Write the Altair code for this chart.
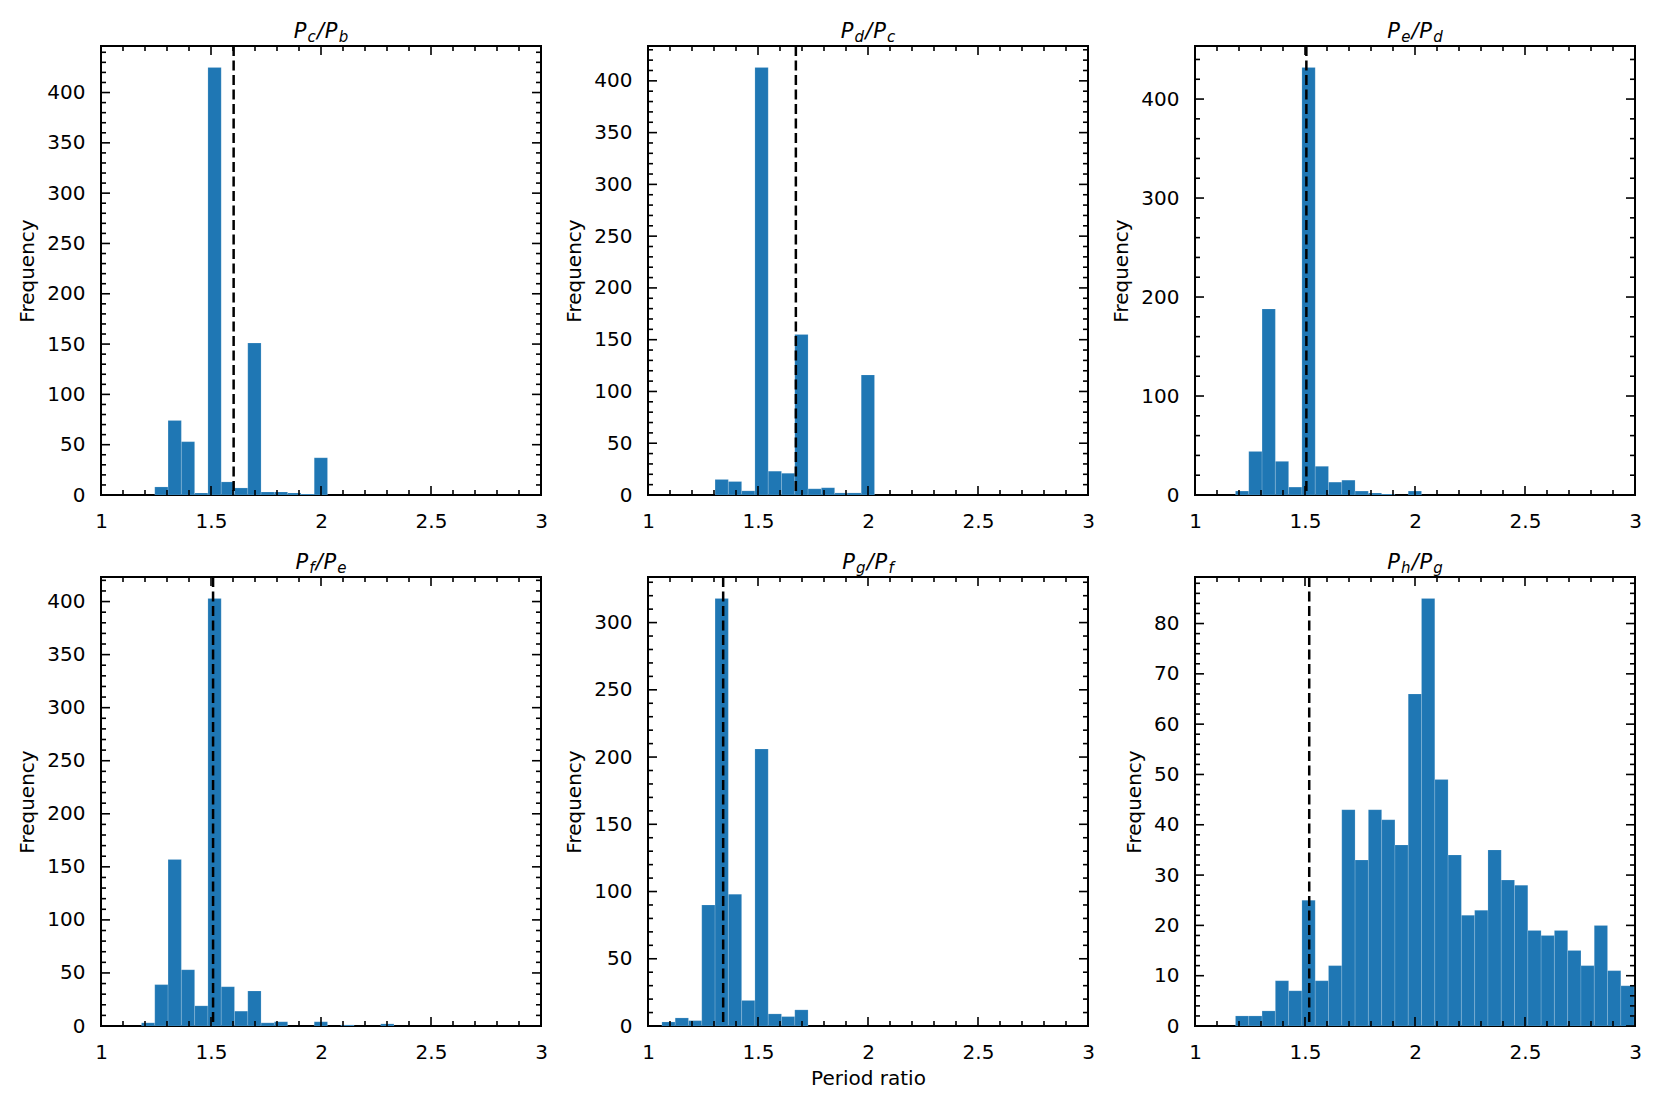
import altair as alt
import numpy as np
import pandas as pd

# ---------------- data ----------------
BIN_START = 1.184      # left edge of the common histogram grid
BIN_WIDTH = 0.0604     # width of every bin

NUMERATORS = ["c", "d", "e", "f", "g", "h"]
DENOMINATORS = ["b", "c", "d", "e", "f", "g"]

# index (on the common grid) of the first listed bin of each panel
FIRST_BIN = [1, 2, 0, 0, -2, 0]

COUNTS_CB = [8, 74, 53, 2, 425, 13, 7, 151, 3, 3, 2, 1, 37]
COUNTS_DC = [15, 13, 4, 413, 23, 21, 155, 6, 7, 2, 2, 116]
COUNTS_ED = [4, 44, 188, 34, 8, 432, 29, 13, 15, 4, 2, 1, 0, 4]
COUNTS_FE = [3, 39, 157, 53, 19, 403, 37, 14, 33, 3, 4, 0, 0, 4, 0, 1, 0, 0, 2]
COUNTS_GF = [3, 6, 4, 90, 318, 98, 19, 206, 9, 7, 12]
COUNTS_HG = [2, 2, 3, 9, 7, 25, 9, 12, 43, 33, 43, 41, 36, 66, 85, 49, 34,
             22, 23, 35, 29, 28, 19, 18, 19, 15, 12, 20, 11, 8]
COUNTS = [COUNTS_CB, COUNTS_DC, COUNTS_ED, COUNTS_FE, COUNTS_GF, COUNTS_HG]

# observed period ratios (dashed lines)
OBSERVED = [1.6029, 1.6721, 1.5062, 1.5094, 1.3417, 1.5192]

Y_MAJOR_STEP = [50, 50, 100, 50, 50, 10]
Y_MINOR_STEP = [10, 10, 20, 10, 10, 2]
X_MAJOR = [1, 1.5, 2, 2.5, 3]
X_MINOR = [1.1, 1.2, 1.3, 1.4, 1.6, 1.7, 1.8, 1.9, 2.1, 2.2, 2.3, 2.4,
           2.6, 2.7, 2.8, 2.9]

# ---------------- style ----------------
BLUE = "#1f77b4"
W, H = 440, 449
FONT = "DejaVu Sans"
FS = 20
TITLE_FS = 21
SUB_FS = 15
MAJ_LEN, MIN_LEN = 9, 5
TICK_W = 1.6
EM = {"b": .635, "c": .55, "d": .635, "e": .615, "f": .352, "g": .635, "h": .634}


def tick_layers(values, channel, scale, axis, length):
    df = pd.DataFrame({"v": values})
    base = alt.Chart(df).mark_rule(color="black", strokeWidth=TICK_W)
    if channel == "x":
        enc = alt.X("v:Q", scale=scale, axis=axis)
        return [base.encode(x=enc, y=alt.value(H), y2=alt.value(H - length)),
                base.encode(x=enc, y=alt.value(0), y2=alt.value(length))]
    enc = alt.Y("v:Q", scale=scale, axis=axis)
    return [base.encode(y=enc, x=alt.value(0), x2=alt.value(length)),
            base.encode(y=enc, x=alt.value(W), x2=alt.value(W - length))]


def title_layers(num, den):
    pieces = [("P", TITLE_FS, False), (num, SUB_FS, True), ("/", TITLE_FS, False),
              ("P", TITLE_FS, False), (den, SUB_FS, True)]
    advs = [13.8, EM[num] * SUB_FS + 1.2, 7.8, 13.8, EM[den] * SUB_FS]
    x = W / 2 - sum(advs) / 2
    layers = []
    for (txt, size, sub), adv in zip(pieces, advs):
        df = pd.DataFrame({"t": [txt]})
        layers.append(
            alt.Chart(df).mark_text(align="left", baseline="alphabetic",
                                    font=FONT, fontStyle="italic",
                                    fontSize=size, color="black")
            .encode(text="t:N", x=alt.value(x), y=alt.value(-4 if sub else -8))
        )
        x += adv
    return layers


def panel(i):
    counts = COUNTS[i]
    lo = [BIN_START + (FIRST_BIN[i] + k) * BIN_WIDTH for k in range(len(counts))]
    bars = pd.DataFrame({"lo": lo, "hi": [v + BIN_WIDTH for v in lo],
                         "count": counts, "base": 0})
    bars = bars[bars["count"] > 0]
    ymax = max(counts) * 1.05
    xs = alt.Scale(domain=[1, 3], nice=False, zero=False)
    ys = alt.Scale(domain=[0, ymax], nice=False, zero=False)
    maj = Y_MAJOR_STEP[i]
    mnr = Y_MINOR_STEP[i]
    y_major = list(range(0, int(ymax) + 1, maj))
    y_minor = [v for v in range(0, int(ymax) + 1, mnr) if v % maj != 0]

    x_axis = alt.Axis(values=X_MAJOR, format="~g", ticks=False,
                      domain=False, grid=False, labelPadding=16,
                      labelFlush=False, labelOverlap=False,
                      title="Period ratio" if i == 4 else "",
                      titlePadding=6)
    y_axis = alt.Axis(values=y_major, format="d", ticks=False,
                      domain=False, grid=False, labelPadding=16,
                      labelFlush=False, labelOverlap=False,
                      title="Frequency", titlePadding=9)

    hist = alt.Chart(bars).mark_rect(
        color=BLUE, stroke="white", strokeOpacity=0.22, strokeWidth=0.7,
        clip=True
    ).encode(
        x=alt.X("lo:Q", scale=xs, axis=x_axis),
        x2="hi",
        y=alt.Y("count:Q", scale=ys, axis=y_axis),
        y2="base",
    )

    obs = alt.Chart(pd.DataFrame({"obs": [OBSERVED[i]]})).mark_rule(
        color="black", strokeWidth=2.5, strokeDash=[10, 4.5]
    ).encode(x=alt.X("obs:Q", scale=xs, axis=x_axis),
             y=alt.value(0), y2=alt.value(H))

    frame = alt.Chart(pd.DataFrame({"a": [0]})).mark_rule(
        opacity=0, strokeOpacity=0
    ).encode(x=alt.value(-92), x2=alt.value(450),
             y=alt.value(-37), y2=alt.value(489))

    layers = [hist]
    layers += tick_layers(X_MAJOR, "x", xs, x_axis, MAJ_LEN)
    layers += tick_layers(X_MINOR, "x", xs, x_axis, MIN_LEN)
    layers += tick_layers(y_major, "y", ys, y_axis, MAJ_LEN)
    layers += tick_layers(y_minor, "y", ys, y_axis, MIN_LEN)
    layers.append(obs)
    layers += title_layers(NUMERATORS[i], DENOMINATORS[i])
    layers.append(frame)
    return alt.layer(*layers).properties(width=W, height=H)


chart = alt.concat(*[panel(i) for i in range(6)], columns=3, spacing=3).properties(
    padding=0
).configure_view(
    stroke="black", strokeWidth=2
).configure_axis(
    labelFont=FONT, labelFontSize=FS, labelColor="black",
    titleFont=FONT, titleFontSize=FS, titleColor="black",
    titleFontWeight="normal",
)

chart.save("out.html", embed_options={"renderer": "svg", "actions": False})
